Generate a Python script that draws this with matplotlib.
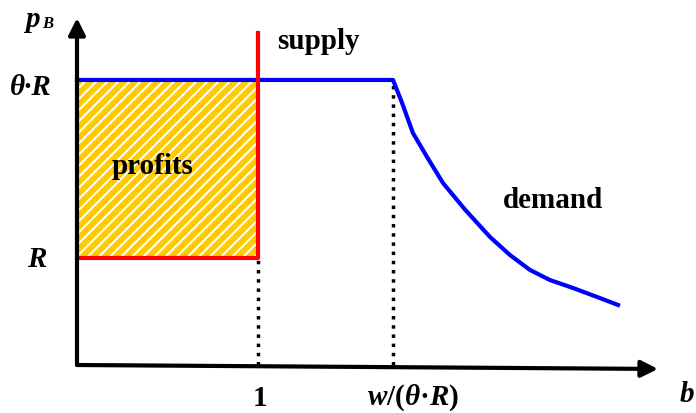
import matplotlib
matplotlib.use("Agg")
import matplotlib.pyplot as plt
from matplotlib.patches import Rectangle

plt.rcParams['font.family'] = ['Liberation Serif', 'DejaVu Serif']
plt.rcParams['mathtext.fontset'] = 'custom'
plt.rcParams['mathtext.it'] = 'Liberation Serif:italic:bold'
plt.rcParams['mathtext.rm'] = 'Liberation Serif:bold'
plt.rcParams['hatch.linewidth'] = 1.5

# model levels (R = 1)
R = 1.0
theta_R = 2.664
b_supply = 1.0
b_kink = 1.746

# demand curve after the kink
demand_b = [1.746, 1.796, 1.856, 1.934, 2.022, 2.144, 2.282, 2.392, 2.503,
            2.613, 2.740, 2.873, 2.989]
demand_p = [2.664, 2.449, 2.168, 1.944, 1.701, 1.452, 1.196, 1.028, 0.888,
            0.794, 0.720, 0.636, 0.561]

# axis ends
x_axis_end = (3.210, -0.037)
y_axis_end = (0.0, 3.243)
supply_top = 3.103

fig = plt.figure(figsize=(6.96, 4.13), dpi=100)
ax = fig.add_axes([0, 0, 1, 1])
ax.set_xlim(-0.4254, 3.4199)
ax.set_ylim(-0.4486, 3.4112)
ax.axis('off')

# profits area
ax.add_patch(Rectangle((0, R), b_supply, theta_R - R, facecolor='#FFCA00',
                       edgecolor='white', hatch='///', linewidth=0, zorder=1))

# dotted guides
ax.plot([b_supply, b_supply], [0, R], color='black', lw=2.5, ls=':', zorder=2)
ax.plot([b_kink, b_kink], [0, theta_R], color='black', lw=2.5, ls=':', zorder=2)

# demand
ax.plot([0] + demand_b, [theta_R] + demand_p, color='#0000FF', lw=3,
        solid_joinstyle='round', zorder=3)

# supply
ax.plot([0, b_supply, b_supply], [R, R, supply_top], color='#FF0000', lw=3, zorder=4)

# axes with arrows
arrow = dict(arrowstyle='-|>', lw=3, color='black', mutation_scale=25,
             shrinkA=0, shrinkB=0)
ax.annotate('', xy=x_axis_end, xytext=(0, 0), arrowprops=arrow, zorder=5)
ax.annotate('', xy=y_axis_end, xytext=(0, 0), arrowprops=arrow, zorder=5)

fs = 21
bold = dict(fontsize=fs, fontweight='bold', va='baseline')
bi = dict(fontsize=fs, fontweight='bold', style='italic', va='baseline')

ax.text(1.105, 2.953, 'supply', **bold)
ax.text(0.193, 1.785, 'profits', **bold)
ax.text(2.354, 1.467, 'demand', **bold)
ax.text(1.011, -0.383, '1', ha='center', **bold)
ax.text(1.602, -0.372, r'$w$/($θ$·$R$)', **bold)

ax.text(-0.370, 2.523, 'θ·R', **bi)
ax.text(-0.276, 0.916, 'R', **bi)
ax.text(3.330, -0.346, 'b', **bi)
ax.text(-0.287, 3.159, 'p', **bi)
ax.text(-0.190, 3.150, 'B', fontsize=12, fontweight='bold', style='italic', va='baseline')

fig.savefig('out.png', dpi=100)
